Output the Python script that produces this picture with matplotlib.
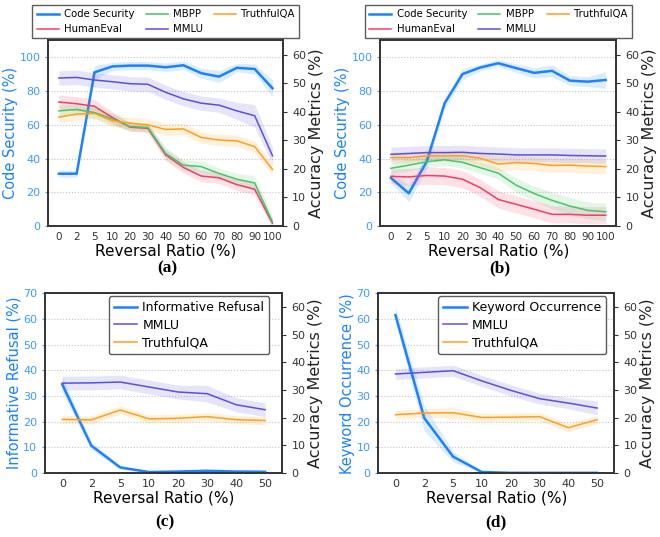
import numpy as np
import matplotlib.pyplot as plt

# x categories
ratios_full = ['0', '2', '5', '10', '20', '30', '40', '50', '60', '70', '80', '90', '100']
ratios_half = ['0', '2', '5', '10', '20', '30', '40', '50']

# panel (a)
a_code = [31, 31, 91, 94.5, 95, 95, 94, 95.2, 90.5, 88.5, 93.7, 93, 81.6]
a_code_sd = [2, 2, 4, 2.5, 2.5, 2.5, 2.5, 2.5, 3, 3.5, 2.5, 3, 5]
a_he = [43.4, 42.8, 41.9, 38, 34.6, 34.2, 24.9, 20.5, 17.5, 16.9, 14.5, 12.9, 1]
a_he_sd = [2.5, 2.5, 2.5, 2, 1.5, 1.5, 2, 2, 2, 2, 2, 2, 1.5]
a_mbpp = [40.3, 40.8, 39.7, 37.5, 34.8, 34.5, 25.4, 21.3, 20.8, 18.4, 16.4, 15.1, 1.4]
a_mbpp_sd = [2, 2, 2, 2, 1.5, 1.5, 2, 2, 2, 2, 2, 2.5, 2]
a_mmlu = [51.8, 52, 51.1, 50.5, 49.8, 49.6, 46.8, 44.5, 43, 42.3, 40.3, 38.6, 24.6]
a_mmlu_sd = [2.5, 2.5, 2.5, 2.5, 2.5, 2.5, 2.5, 2.5, 2.5, 2.5, 3, 4, 3]
a_tqa = [38.1, 39.2, 39.4, 36.9, 36, 35.4, 33.8, 34, 31, 30.1, 29.8, 27.8, 19.8]
a_tqa_sd = [2, 2, 2, 2, 2, 2, 2, 2, 2, 2, 2, 2, 2]

# panel (b)
b_code = [28.5, 19.4, 38.2, 72.7, 90, 93.9, 96.4, 93.5, 90.7, 91.9, 86.1, 85.5, 86.5]
b_code_sd = [3, 5, 4, 3, 3, 2, 2, 2.5, 3, 3.5, 3, 3, 5]
b_he = [17.4, 17.2, 17.7, 17.5, 16.4, 13.4, 9.3, 7.6, 5.9, 4.1, 4.1, 3.8, 3.8]
b_he_sd = [2.5, 3, 3, 3, 3, 3, 3, 3, 3, 3, 3, 3, 3]
b_mbpp = [20.2, 21.3, 22.5, 23.2, 22.3, 20.4, 18.5, 14.3, 11.4, 9, 7, 5.5, 5]
b_mbpp_sd = [2, 2, 2, 2, 2, 2, 2, 2.5, 2.5, 3, 3, 3, 3]
b_mmlu = [25.1, 25.4, 25.7, 25.7, 25.8, 25.4, 25.2, 24.9, 24.9, 24.9, 24.7, 24.6, 24.5]
b_mmlu_sd = [2.5, 2.5, 2.5, 2.5, 2.5, 2.5, 2.5, 2.5, 2.5, 2.5, 2.5, 2.5, 2.5]
b_tqa = [24, 23.9, 24.6, 24.6, 24.6, 23.7, 21.7, 22.2, 21.9, 21.2, 21.3, 21, 20.8]
b_tqa_sd = [2, 2, 2, 2, 2, 2.5, 2.5, 2.5, 2.5, 2.5, 2.5, 2.5, 2.5]

# panel (c)
c_refusal = [34.5, 10.7, 2.2, 0.4, 0.6, 0.9, 0.6, 0.5]
c_refusal_sd = [3, 1.5, 0.7, 0.5, 0.5, 0.5, 0.5, 0.5]
c_mmlu = [32.5, 32.6, 32.9, 31.1, 29.3, 28.7, 24.7, 22.9]
c_mmlu_sd = [2.5, 2.5, 2.5, 2.5, 2.5, 3, 2.5, 2.5]
c_tqa = [19.4, 19.2, 22.8, 19.6, 19.8, 20.4, 19.3, 19]
c_tqa_sd = [1.5, 1.5, 1.5, 1.5, 1.5, 1.5, 1.5, 1.5]

# panel (d)
d_keyword = [61.5, 21.4, 6.4, 0.4, 0.1, 0.1, 0.1, 0.1]
d_keyword_sd = [3, 5, 2, 0.3, 0.2, 0.2, 0.2, 0.2]
d_mmlu = [35.8, 36.4, 37, 33.3, 29.9, 26.9, 25.3, 23.5]
d_mmlu_sd = [2, 2, 2, 2, 2, 2, 2, 2.5]
d_tqa = [21.1, 21.7, 21.8, 20.1, 20.2, 20.4, 16.4, 19.3]
d_tqa_sd = [1.5, 1.5, 2, 1.5, 1.5, 1.5, 1.5, 1.5]

BLUE = '#1a82ff'
TICKBLUE = '#3b9bff'
RED = '#f43c64'
GREEN = '#45c566'
PURPLE = '#5a50dc'
ORANGE = '#ff9f1a'
DARK = '#333333'

plt.rcParams['font.family'] = 'DejaVu Sans'

fig = plt.figure(figsize=(6.6, 5.37), dpi=100)


def band(ax, labels, vals, sd, color, label, lw):
    x = np.arange(len(labels))
    vals = np.array(vals)
    sd = np.array(sd)
    line, = ax.plot(x, vals, color=color, lw=lw, label=label)
    ax.fill_between(x, vals - sd, vals + sd, color=color, alpha=0.15, lw=0)
    return line


def panel(rect, labels, main, main_sd, main_name, others, left_max, left_ticks):
    ax = fig.add_axes(rect)
    ax2 = ax.twinx()
    x = np.arange(len(labels))
    handles = [band(ax, labels, main, main_sd, BLUE, main_name, 1.8)]
    for vals, sd, color, name in others:
        handles.append(band(ax2, labels, vals, sd, color, name, 1.1))
    ax.set_ylim(0, left_max)
    ax.set_yticks(left_ticks)
    ax2.set_ylim(0, 65)
    ax2.set_yticks(range(0, 61, 10))
    ax.set_xticks(x)
    ax.set_xticklabels(labels)
    ax.set_xlim(-0.6, len(labels) - 0.4)
    ax.grid(axis='y', ls=':', color='#c4c4c4', lw=0.8)
    ax.set_axisbelow(True)
    ax.tick_params(axis='y', colors=TICKBLUE, labelsize=8, length=2)
    ax.tick_params(axis='x', colors=DARK, labelsize=8, length=0, pad=4)
    ax2.tick_params(axis='y', colors=DARK, labelsize=8, length=3)
    ax.set_xlabel('Reversal Ratio (%)', fontsize=11, labelpad=1)
    ax.set_ylabel(main_name + ' (%)', color=BLUE, fontsize=10.5, labelpad=1)
    ax2.set_ylabel('Accuracy Metrics (%)', color='#222222', fontsize=11.5, labelpad=2)
    for a in (ax, ax2):
        for s in a.spines.values():
            s.set_color(DARK)
            s.set_linewidth(1.2)
    return ax, ax2, handles


def top_legend(ax, h):
    leg = ax.legend(handles=h, ncol=3, loc='lower center', bbox_to_anchor=(0.5, 1.01),
                    borderaxespad=0, fontsize=7.3, frameon=True, edgecolor=DARK,
                    handlelength=2.2, handletextpad=0.5, columnspacing=1.1,
                    borderpad=0.4, labelspacing=0.5, fancybox=False)
    leg.get_frame().set_linewidth(1.0)


def inner_legend(ax2, h, xr):
    leg = ax2.legend(handles=h, loc='upper right', bbox_to_anchor=(xr, 0.983), borderaxespad=0,
                     fontsize=9, edgecolor=DARK, handlelength=1.85, handletextpad=0.45,
                     borderpad=0.4, labelspacing=0.35)
    leg.get_frame().set_linewidth(1.0)


# (a)
ax, ax2, h = panel([0.073, 0.579, 0.356, 0.346], ratios_full, a_code, a_code_sd, 'Code Security',
                   [(a_he, a_he_sd, RED, 'HumanEval'), (a_mbpp, a_mbpp_sd, GREEN, 'MBPP'),
                    (a_mmlu, a_mmlu_sd, PURPLE, 'MMLU'), (a_tqa, a_tqa_sd, ORANGE, 'TruthfulQA')],
                   110, range(0, 101, 20))
top_legend(ax, h)
ax.tick_params(axis='x', labelsize=7.5)

# (b)
ax, ax2, h = panel([0.576, 0.579, 0.358, 0.346], ratios_full, b_code, b_code_sd, 'Code Security',
                   [(b_he, b_he_sd, RED, 'HumanEval'), (b_mbpp, b_mbpp_sd, GREEN, 'MBPP'),
                    (b_mmlu, b_mmlu_sd, PURPLE, 'MMLU'), (b_tqa, b_tqa_sd, ORANGE, 'TruthfulQA')],
                   110, range(0, 101, 20))
top_legend(ax, h)
ax.tick_params(axis='x', labelsize=7.5)

# (c)
ax, ax2, h = panel([0.068, 0.119, 0.36, 0.335], ratios_half, c_refusal, c_refusal_sd, 'Informative Refusal',
                   [(c_mmlu, c_mmlu_sd, PURPLE, 'MMLU'), (c_tqa, c_tqa_sd, ORANGE, 'TruthfulQA')],
                   70, range(0, 71, 10))
inner_legend(ax2, h, 0.945)

# (d)
ax, ax2, h = panel([0.573, 0.119, 0.358, 0.335], ratios_half, d_keyword, d_keyword_sd, 'Keyword Occurrence',
                   [(d_mmlu, d_mmlu_sd, PURPLE, 'MMLU'), (d_tqa, d_tqa_sd, ORANGE, 'TruthfulQA')],
                   70, range(0, 71, 10))
inner_legend(ax2, h, 0.966)

for x, y, t in [(0.253, 0.500, '(a)'), (0.757, 0.500, '(b)'), (0.25, 0.028, '(c)'), (0.752, 0.028, '(d)')]:
    fig.text(x, y, t, ha='center', va='center', fontsize=12.5, fontweight='bold',
             family='Liberation Serif')

fig.savefig('out.png', dpi=100)
